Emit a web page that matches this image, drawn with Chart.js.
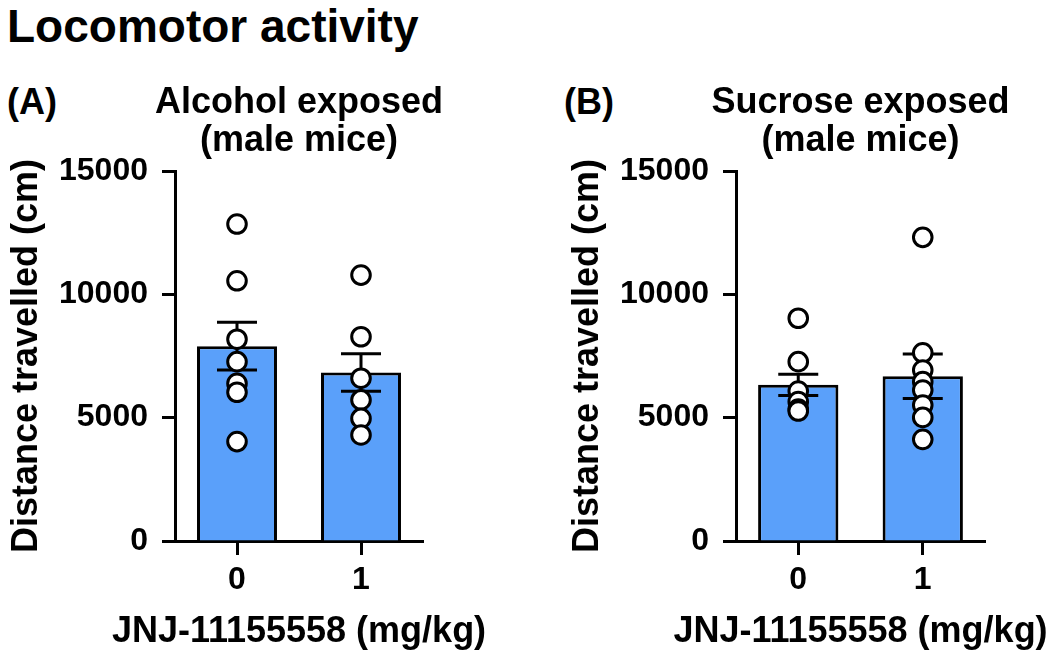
<!DOCTYPE html>
<html>
<head>
<meta charset="utf-8">
<script src="https://cdn.jsdelivr.net/npm/chart.js@4.4.1/dist/chart.umd.min.js"></script>
<style>
  html, body { margin: 0; padding: 0; background: #fff; }
  body { width: 1050px; height: 663px; position: relative; overflow: hidden; font-family: "Liberation Sans", Arial, sans-serif; }
  .txt { position: absolute; font-weight: bold; color: #000; line-height: 1; white-space: nowrap; }
  #main { left: 7px; top: 3px; font-size: 46px; }
  #lblA { left: 7px; top: 84px; font-size: 36px; }
  #lblB { left: 564px; top: 84px; font-size: 36px; }
  .wrap { position: absolute; top: 0; height: 663px; }
  #wA { left: 0; width: 561px; }
  #wB { left: 561px; width: 489px; }
</style>
</head>
<body>
<div class="txt" id="main">Locomotor activity</div>
<div class="txt" id="lblA">(A)</div>
<div class="txt" id="lblB">(B)</div>
<div class="wrap" id="wA"><canvas id="cA" width="561" height="663"></canvas></div>
<div class="wrap" id="wB"><canvas id="cB" width="489" height="663"></canvas></div>
<script>
// ---- data ----
const categories = ['0', '1'];
const yTicks = [0, 5000, 10000, 15000];

const alcoholMeans = [7900, 6830];
const alcoholSem = [965, 760];
const alcoholDose0 = [12850, 10550, 8180, 7270, 6390, 6030, 4030];
const alcoholDose1 = [10780, 8280, 6600, 5720, 4970, 4300];

const sucroseMeans = [6330, 6680];
const sucroseSem = [430, 900];
const sucroseDose0 = [9030, 7270, 6080, 5650, 5350, 5270];
const sucroseDose1 = [12310, 7630, 6930, 6460, 6120, 5510, 5010, 4120];

const titleA = ['Alcohol exposed', '(male mice)'];
const titleB = ['Sucrose exposed', '(male mice)'];
const xTitle = 'JNJ-11155558 (mg/kg)';
const yTitle = 'Distance travelled (cm)';

// ---- styling ----
const FONT = '"Liberation Sans", Arial, sans-serif';
const BAR_COLOR = '#5AA0FA';

function makeErrorBars(means, sems) {
  return {
    id: 'errorBars',
    beforeDatasetDraw(chart, args) {
      if (args.meta.type !== 'scatter') return;
      const ctx = chart.ctx, x = chart.scales.x, y = chart.scales.y;
      ctx.save();
      ctx.strokeStyle = '#000';
      ctx.lineWidth = 3;
      ctx.lineCap = 'butt';
      means.forEach((m, i) => {
        const px = x.getPixelForValue(i);
        const top = y.getPixelForValue(m + sems[i]);
        const bot = y.getPixelForValue(m - sems[i]);
        ctx.beginPath();
        ctx.moveTo(px, top); ctx.lineTo(px, bot);
        ctx.moveTo(px - 20, top); ctx.lineTo(px + 20, top);
        ctx.moveTo(px - 20, bot); ctx.lineTo(px + 20, bot);
        ctx.stroke();
      });
      ctx.restore();
    }
  };
}

// panel title (2 lines) and x-axis title, centred over the plot area, drawn without width squeezing
function makePanelText(lines, xLabel) {
  return {
    id: 'panelText',
    afterDraw(chart) {
      const ctx = chart.ctx, ca = chart.chartArea;
      const cx = (ca.left + ca.right) / 2;
      ctx.save();
      ctx.fillStyle = '#000';
      ctx.font = 'bold 36px ' + FONT;
      ctx.textAlign = 'center';
      ctx.textBaseline = 'middle';
      lines.forEach((t, i) => ctx.fillText(t, cx, ca.top - 68 + i * 37.8));
      ctx.fillText(xLabel, cx, ca.bottom + 91.4);
      ctx.restore();
    }
  };
}

function makeChart(canvasId, title, means, sems, pointGroups, padRight) {
  const pts = [];
  pointGroups.forEach((arr, i) => arr.forEach(v => pts.push({ x: categories[i], y: v })));
  return new Chart(document.getElementById(canvasId), {
    type: 'bar',
    data: {
      labels: categories,
      datasets: [
        {
          type: 'scatter',
          data: pts,
          order: 0,
          pointRadius: 9.3,
          pointBorderWidth: 3,
          pointBackgroundColor: '#fff',
          pointBorderColor: '#000',
          pointHoverRadius: 9.3
        },
        {
          type: 'bar',
          data: means,
          order: 1,
          backgroundColor: BAR_COLOR,
          borderColor: '#000',
          borderWidth: 3,
          categoryPercentage: 1,
          barPercentage: 0.645
        }
      ]
    },
    options: {
      responsive: false,
      animation: false,
      devicePixelRatio: 1,
      layout: { padding: { top: 171, left: 0, right: padRight, bottom: 0 } },
      plugins: {
        legend: { display: false },
        tooltip: { enabled: false },
        title: { display: false }
      },
      scales: {
        x: {
          type: 'category',
          offset: true,
          afterFit(s) { s.height = 122; },
          grid: { drawOnChartArea: false, offset: false, tickLength: 14, tickWidth: 3, tickColor: '#000' },
          border: { display: true, color: '#000', width: 3 },
          ticks: { color: '#000', font: { family: FONT, size: 32, weight: 'bold' }, padding: 6 },
          title: { display: false }
        },
        y: {
          min: 0,
          max: 15000,
          afterFit(s) { s.width = 175; },
          afterBuildTicks(s) { s.ticks = yTicks.map(v => ({ value: v })); },
          grid: { drawOnChartArea: false, tickLength: 13, tickWidth: 3, tickColor: '#000' },
          border: { display: true, color: '#000', width: 3 },
          ticks: { color: '#000', font: { family: FONT, size: 32, weight: 'bold' }, padding: 14, callback: v => String(v) },
          title: { display: true, text: yTitle, color: '#000', font: { family: FONT, size: 36, weight: 'bold' }, padding: { top: 5, bottom: 0 } }
        }
      }
    },
    plugins: [makeErrorBars(means, sems), makePanelText(title, xTitle)]
  });
}

makeChart('cA', titleA, alcoholMeans, alcoholSem, [alcoholDose0, alcoholDose1], 138);
makeChart('cB', titleB, sucroseMeans, sucroseSem, [sucroseDose0, sucroseDose1], 65);
</script>
</body>
</html>
